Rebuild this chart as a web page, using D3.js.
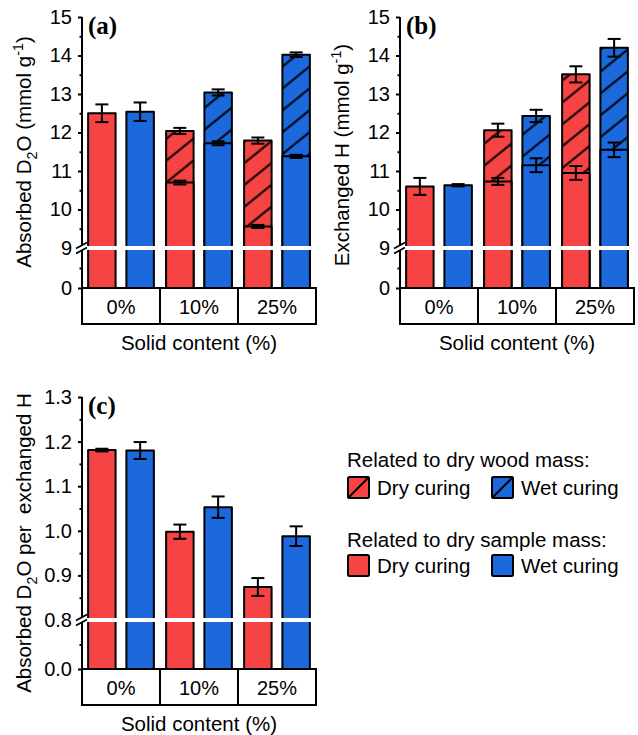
<!DOCTYPE html>
<html><head><meta charset="utf-8">
<script src="https://cdn.jsdelivr.net/npm/d3@7"></script>
<style>body{margin:0;background:#fff}svg{display:block}text{font-family:"Liberation Sans",Arial,sans-serif;fill:#000;white-space:pre}</style>
</head><body>
<script>
// ---------- DATA ----------
const categories = ["0%", "10%", "25%"];
// (a) Absorbed D2O (mmol g-1)
const aDryWood = [null, 12.04, 11.79];
const aDryWoodErr = [null, 0.08, 0.08];
const aWetWood = [null, 13.04, 14.02];
const aWetWoodErr = [null, 0.08, 0.06];
const aDrySample = [12.50, 10.70, 9.56];
const aDrySampleErr = [0.23, 0.05, 0.04];
const aWetSample = [12.54, 11.72, 11.38];
const aWetSampleErr = [0.24, 0.05, 0.04];
// (b) Exchanged H (mmol g-1)
const bDryWood = [null, 12.06, 13.51];
const bDryWoodErr = [null, 0.17, 0.21];
const bWetWood = [null, 12.43, 14.20];
const bWetWoodErr = [null, 0.16, 0.23];
const bDrySample = [10.60, 10.73, 10.95];
const bDrySampleErr = [0.22, 0.09, 0.18];
const bWetSample = [10.63, 11.15, 11.55];
const bWetSampleErr = [0.03, 0.18, 0.19];
// (c) Absorbed D2O per exchanged H
const cDry = [1.181, 0.998, 0.874];
const cDryErr = [0.003, 0.016, 0.020];
const cWet = [1.180, 1.053, 0.988];
const cWetErr = [0.019, 0.024, 0.022];
// ticks
const abMajorTicks = [0, 9, 10, 11, 12, 13, 14, 15];
const abMinorTicks = [4.5, 9.5, 10.5, 11.5, 12.5, 13.5, 14.5];
const cMajorTicks = [0.0, 0.8, 0.9, 1.0, 1.1, 1.2, 1.3];
const cMinorTicks = [0.4, 0.85, 0.95, 1.05, 1.15, 1.25];
const seriesNames = ["Dry curing", "Wet curing"];

const RED = "#F64343", BLUE = "#1B69DC";

const svg = d3.select("body").append("svg").attr("width", 638).attr("height", 735);
const defs = svg.append("defs");
const pat = defs.append("pattern").attr("id", "hatch").attr("patternUnits", "userSpaceOnUse")
  .attr("width", 8).attr("height", 17).attr("patternTransform", "rotate(-39)");
pat.append("line").attr("x1", -1).attr("x2", 9).attr("y1", 8.5).attr("y2", 8.5)
  .attr("stroke", "#000").attr("stroke-width", 2);

function addTitle(g, parts, size) {
  const t = g.append("text").attr("text-anchor", "middle").attr("font-size", size);
  let shift = 0;
  parts.forEach(p => {
    const ts = t.append("tspan").text(p.t);
    let target = 0;
    if (p.s === "sub") { ts.attr("font-size", size * 0.7); target = size * 0.3; }
    else if (p.s === "sup") { ts.attr("font-size", size * 0.7); target = -size * 0.4; }
    ts.attr("dy", target - shift); shift = target;
  });
  return t;
}

function panel(o) {
  const g = svg.append("g");
  const y = d3.scaleLinear().domain(o.yDomain).range(o.yRange);
  const y0 = y(0);
  const x = d3.scaleBand().domain(categories).range([o.axisX, o.boxR]);
  const xi = d3.scaleBand().domain(seriesNames).range([0, x.bandwidth()]).paddingInner(0.282).paddingOuter(0.16);
  const colors = [RED, BLUE];

  categories.forEach((c, i) => {
    o.series.forEach((s, j) => {
      const bx = x(c) + xi(seriesNames[j]), bw = xi.bandwidth();
      if (s.wood && s.wood[i] != null) {
        g.append("rect").attr("x", bx).attr("y", y(s.wood[i])).attr("width", bw).attr("height", y0 - y(s.wood[i]))
          .attr("fill", colors[j]);
        g.append("rect").attr("x", bx).attr("y", y(s.wood[i])).attr("width", bw).attr("height", y0 - y(s.wood[i]))
          .attr("fill", "url(#hatch)").attr("stroke", "#000").attr("stroke-width", 2).attr("stroke-linejoin", "round");
      }
      g.append("rect").attr("x", bx).attr("y", y(s.sample[i])).attr("width", bw).attr("height", y0 - y(s.sample[i]))
        .attr("fill", colors[j]).attr("stroke", "#000").attr("stroke-width", 2).attr("stroke-linejoin", "round");
    });
  });
  // error bars
  categories.forEach((c, i) => {
    o.series.forEach((s, j) => {
      const cx = x(c) + xi(seriesNames[j]) + xi.bandwidth() / 2;
      const pairs = [];
      if (s.wood && s.wood[i] != null) pairs.push([s.wood[i], s.woodErr[i]]);
      pairs.push([s.sample[i], s.sampleErr[i]]);
      pairs.forEach(([v, e]) => {
        const eg = g.append("g").attr("stroke", "#000").attr("stroke-width", 2);
        eg.append("line").attr("x1", cx).attr("x2", cx).attr("y1", y(v - e)).attr("y2", y(v + e));
        [v - e, v + e].forEach(vv => eg.append("line").attr("x1", cx - 6.5).attr("x2", cx + 6.5).attr("y1", y(vv)).attr("y2", y(vv)));
      });
    });
  });
  // y axis
  const ax = g.append("g").attr("transform", `translate(${o.axisX},0)`)
    .call(d3.axisLeft(y).tickValues(o.major).tickSize(4).tickPadding(6).tickFormat(o.fmt));
  ax.select(".domain").attr("stroke-width", 2).attr("d", `M0,${y0}V${y(o.yDomain[2])}`);
  ax.selectAll(".tick line").attr("stroke-width", 2);
  ax.selectAll(".tick text").attr("font-size", 20).attr("font-family", "Liberation Sans, Arial, sans-serif").attr("fill", "#000");
  const mn = g.append("g").attr("transform", `translate(${o.axisX},0)`)
    .call(d3.axisLeft(y).tickValues(o.minor).tickSize(2.5).tickFormat(""));
  mn.select(".domain").remove();
  mn.selectAll(".tick line").attr("stroke-width", 2);
  // axis break
  const by = y(o.yDomain[1]);
  g.append("rect").attr("x", o.axisX - 6).attr("y", by - 2).attr("width", o.boxR - o.axisX + 4).attr("height", 4).attr("fill", "#fff");
  [-2.5, 2.5].forEach(d => g.append("line").attr("x1", o.axisX - 6).attr("x2", o.axisX + 5)
    .attr("y1", by + d + 3).attr("y2", by + d - 3).attr("stroke", "#000").attr("stroke-width", 1.8));
  // category boxes
  categories.forEach(c => {
    g.append("rect").attr("x", x(c)).attr("y", y0).attr("width", x.bandwidth()).attr("height", 36)
      .attr("fill", "#fff").attr("stroke", "#000").attr("stroke-width", 2);
    g.append("text").attr("x", x(c) + x.bandwidth() / 2).attr("y", y0 + 26).attr("text-anchor", "middle")
      .attr("font-size", 20).text(c);
  });
  g.append("text").attr("x", (o.axisX + o.boxR) / 2).attr("y", y0 + 62).attr("text-anchor", "middle")
    .attr("font-size", 20.5).text("Solid content (%)");
  // y title
  addTitle(g, o.title, 20.5).attr("transform", `translate(${o.titleX},${o.titleY}) rotate(-90)`);
  // panel label
  g.append("text").attr("x", o.axisX + 6).attr("y", y(o.yDomain[2]) + 17).attr("font-size", 25)
    .attr("font-weight", "bold").style("font-family", "Liberation Serif, Times New Roman, serif").text(o.label);
}

panel({
  axisX: 82, boxR: 316, yDomain: [0, 9, 15], yRange: [288, 248, 17],
  major: abMajorTicks, minor: abMinorTicks, fmt: d3.format("d"),
  title: [{t: "Absorbed D"}, {t: "2", s: "sub"}, {t: "O (mmol g"}, {t: "-1", s: "sup"}, {t: ")"}],
  titleX: 31, titleY: 152, label: "(a)",
  series: [
    {wood: aDryWood, woodErr: aDryWoodErr, sample: aDrySample, sampleErr: aDrySampleErr},
    {wood: aWetWood, woodErr: aWetWoodErr, sample: aWetSample, sampleErr: aWetSampleErr}
  ]
});
panel({
  axisX: 400, boxR: 634, yDomain: [0, 9, 15], yRange: [288, 248, 17],
  major: abMajorTicks, minor: abMinorTicks, fmt: d3.format("d"),
  title: [{t: "Exchanged H (mmol g"}, {t: "-1", s: "sup"}, {t: ")"}],
  titleX: 349, titleY: 155, label: "(b)",
  series: [
    {wood: bDryWood, woodErr: bDryWoodErr, sample: bDrySample, sampleErr: bDrySampleErr},
    {wood: bWetWood, woodErr: bWetWoodErr, sample: bWetSample, sampleErr: bWetSampleErr}
  ]
});
panel({
  axisX: 82, boxR: 316, yDomain: [0, 0.8, 1.3], yRange: [669, 620, 397],
  major: cMajorTicks, minor: cMinorTicks, fmt: d3.format(".1f"),
  title: [{t: "Absorbed D"}, {t: "2", s: "sub"}, {t: "O per  exchanged H"}],
  titleX: 31, titleY: 543, label: "(c)",
  series: [
    {sample: cDry, sampleErr: cDryErr},
    {sample: cWet, sampleErr: cWetErr}
  ]
});

// legend
const lg = svg.append("g");
const legendRows = [
  {title: "Related to dry wood mass:", ty: 467, sy: 477, hatch: true},
  {title: "Related to dry sample mass:", ty: 547, sy: 555, hatch: false}
];
legendRows.forEach(r => {
  lg.append("text").attr("x", 347).attr("y", r.ty).attr("font-size", 20.5).text(r.title);
  [[347, RED, seriesNames[0]], [491, BLUE, seriesNames[1]]].forEach(([lx, col, name]) => {
    lg.append("rect").attr("x", lx + 1).attr("y", r.sy).attr("width", 21).attr("height", 21).attr("rx", 1.5)
      .attr("fill", col).attr("stroke", "#000").attr("stroke-width", 2);
    if (r.hatch) lg.append("line").attr("x1", lx + 1).attr("y1", r.sy + 21).attr("x2", lx + 22).attr("y2", r.sy)
      .attr("stroke", "#000").attr("stroke-width", 2);
    lg.append("text").attr("x", lx + 30).attr("y", r.sy + 18).attr("font-size", 20.5).text(name);
  });
});
</script>
</body></html>
